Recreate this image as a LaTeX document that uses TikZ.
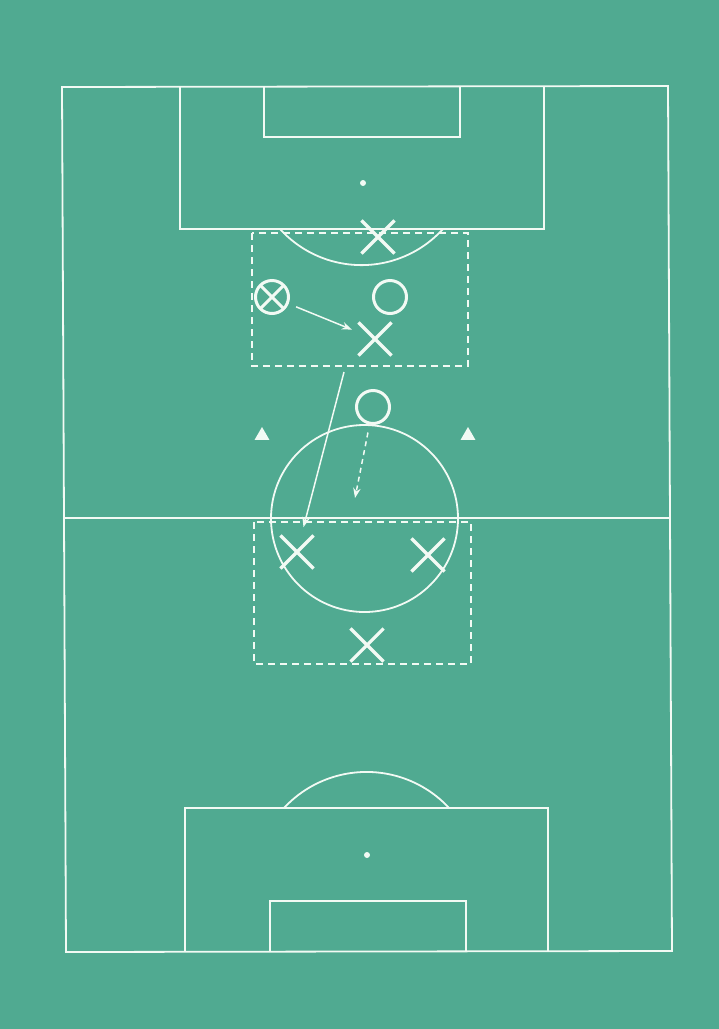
\documentclass[tikz,border=0pt]{standalone}
\usetikzlibrary{positioning, shapes.misc, shapes.geometric, arrows.meta}
\definecolor{turf}{RGB}{80,170,145}
\definecolor{chalk}{RGB}{242,250,244}

\begin{document}
\begin{tikzpicture}[x=1pt, y=1pt, yscale=-1,
    line/.style={draw=chalk, line width=1.8pt},
    zone/.style={draw=chalk, line width=1.8pt, dash pattern=on 7pt off 5pt},
    cross/.style={cross out, draw=chalk, line width=3.2pt, minimum size=30pt, inner sep=0pt},
    ring/.style={circle, draw=chalk, line width=3pt, minimum size=33pt, inner sep=0pt},
    cone/.style={regular polygon, regular polygon sides=3, fill=chalk, minimum size=17pt, inner sep=0pt},
    spot/.style={circle, fill=chalk, minimum size=6pt, inner sep=0pt},
    pass/.style={draw=chalk, line width=1.5pt, -{Stealth[length=10pt,width=7.5pt]}},
    run/.style={pass, dash pattern=on 5pt off 4pt}]

    \fill[turf] (0,0) rectangle (719,1029);
    \useasboundingbox (0,0) rectangle (719,1029);

    % pitch
    \draw[line] (62,87) -- (668,86) -- (672,951) -- (66,952) -- cycle;
    \draw[line] (64,518) -- (670,518);
    \draw[line] (364.5,518.5) circle[radius=93.5];
    \draw[line] (180,87) -- (180,229) -- (544,229) -- (544,86);
    \draw[line] (264,87) -- (264,137) -- (460,137) -- (460,86);
    \draw[line] (280,229) arc[start angle=137.8, end angle=42.2, radius=110];
    \draw[line] (185,952) -- (185,808) -- (548,808) -- (548,951);
    \draw[line] (270,952) -- (270,901) -- (466,901) -- (466,951);
    \draw[line] (284,808) arc[start angle=222.8, end angle=317.2, radius=112.5];
    \node[spot] (spottop) at (363,183) {};
    \node[spot] (spotbot) at (367,855) {};

    % zones
    \draw[zone] (252,233) rectangle (468,366);
    \draw[zone] (254,522) rectangle (471,664);

    % players
    \node[cross] (xtop) at (378,237) {};
    \node[ring, path picture={
        \draw[chalk, line width=3pt]
            (path picture bounding box.north west) -- (path picture bounding box.south east)
            (path picture bounding box.north east) -- (path picture bounding box.south west);
    }] (oa) at (272,297) {};
    \node[ring] (ob) at (390,297) {};
    \node[cross] (xmid) at (375,339) {};
    \node[ring] (oc) at (373,407) {};
    \node[cross] (xleft) at (297,552) {};
    \node[cross] (xright) at (428,555) {};
    \node[cross] (xback) at (367,645) {};
    \node[cone] (conel) at (262,435.5) {};
    \node[cone] (coner) at (468,435.5) {};

    % passes and runs
    \coordinate (pstart) at (344,372);
    \coordinate (rend) at (355,498);
    \draw[pass, shorten <=8pt, shorten >=7pt] (oa) -- (xmid);
    \draw[pass, shorten >=8.5pt] (pstart) -- (xleft);
    \draw[run, shorten <=8pt] (oc) -- (rend);

\end{tikzpicture}
\end{document}
